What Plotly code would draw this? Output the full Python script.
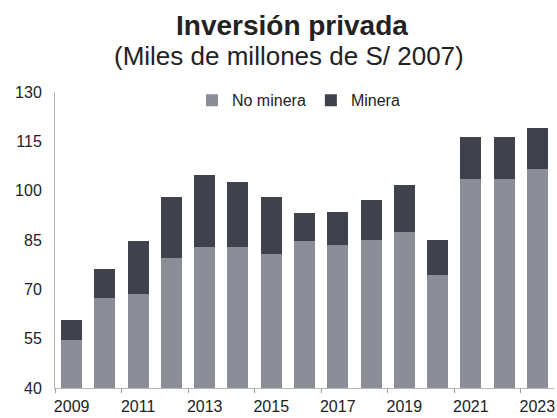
import plotly.graph_objects as go

# Inversión privada, miles de millones de S/ 2007
years = list(range(2009, 2024))
total = [60.8, 76.2, 84.6, 98.0, 104.8, 102.6, 98.2, 93.2, 93.5, 97.2, 101.6, 84.9, 116.4, 116.3, 119.2]
no_minera = [54.5, 67.5, 68.6, 79.5, 83.0, 83.0, 80.7, 84.7, 83.6, 84.9, 87.3, 74.4, 103.4, 103.4, 106.6]
minera = [round(t - n, 1) for t, n in zip(total, no_minera)]

tick_years = years[::2]
tick_labels = [str(y) for y in tick_years]
y_ticks = [40, 55, 70, 85, 100, 115, 130]

GRAY = "#8b8d97"
DARK = "#3f414c"
TEXT = "#222222"
FONT = "Liberation Sans, Arial, sans-serif"

fig = go.Figure()
fig.add_trace(go.Bar(x=years, y=no_minera, name="No minera",
                     marker=dict(color=GRAY, line=dict(width=0)), width=0.63))
fig.add_trace(go.Bar(x=years, y=minera, name="Minera",
                     marker=dict(color=DARK, line=dict(width=0)), width=0.63))

fig.update_layout(
    barmode="stack",
    width=557, height=418,
    margin=dict(l=55, r=3, t=92, b=30),
    paper_bgcolor="white", plot_bgcolor="white",
    font=dict(family=FONT, color=TEXT),
    showlegend=True,
    legend=dict(orientation="h", x=0.2745, y=0.972, xanchor="left", yanchor="middle",
                font=dict(size=16, color=TEXT), traceorder="normal",
                bgcolor="rgba(0,0,0,0)", itemwidth=30),
    annotations=[
        dict(text="<b>Inversión privada</b>", xref="paper", yref="paper",
             x=(292 - 55) / 499, y=1 + (92 - 25) / 296, xanchor="center", yanchor="middle",
             showarrow=False, font=dict(size=28, color=TEXT, family=FONT)),
        dict(text="(Miles de millones de S/ 2007)", xref="paper", yref="paper",
             x=(289 - 55) / 499, y=1 + (92 - 56) / 296, xanchor="center", yanchor="middle",
             showarrow=False, font=dict(size=26, color=TEXT, family=FONT)),
    ],
)

fig.update_xaxes(
    range=[2008.5, 2023.5], tickmode="array", tickvals=tick_years, ticktext=tick_labels,
    ticks="", tickfont=dict(size=16, color=TEXT), showgrid=False, zeroline=False,
    showline=True, linecolor="#b5b5b5", linewidth=1, ticklabelstandoff=4,
    minor=dict(tickmode="array", tickvals=[y - 0.5 for y in tick_years], ticks="outside",
               ticklen=4, tickcolor="#999999", showgrid=False),
)
fig.update_yaxes(
    range=[40, 130], tickmode="array", tickvals=y_ticks, ticks="",
    tickfont=dict(size=16, color=TEXT), showgrid=False, zeroline=False,
    showline=True, linecolor="#b5b5b5", linewidth=1, ticklabelstandoff=9,
)

fig.write_html("out.html")
